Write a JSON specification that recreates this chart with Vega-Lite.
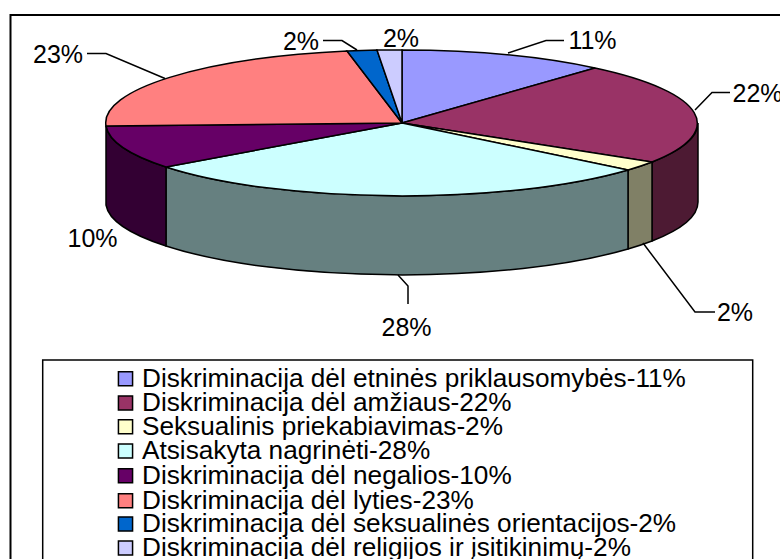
{"$schema":"https://vega.github.io/schema/vega-lite/v6.json","width":780,"height":559,"padding":0,"autosize":"none","background":"white","config":{"view":{"stroke":null}},
"datasets":{"slices":[
{"slice":1,"category":"Diskriminacija dėl etninės priklausomybės-11%","percent":11,"label":"11%"},
{"slice":2,"category":"Diskriminacija dėl amžiaus-22%","percent":22,"label":"22%"},
{"slice":3,"category":"Seksualinis priekabiavimas-2%","percent":2,"label":"2%"},
{"slice":4,"category":"Atsisakyta nagrinėti-28%","percent":28,"label":"28%"},
{"slice":5,"category":"Diskriminacija dėl negalios-10%","percent":10,"label":"10%"},
{"slice":6,"category":"Diskriminacija dėl lyties-23%","percent":23,"label":"23%"},
{"slice":7,"category":"Diskriminacija dėl seksualinės orientacijos-2%","percent":2,"label":"2%"},
{"slice":8,"category":"Diskriminacija dėl religijos ir įsitikinimų-2%","percent":2,"label":"2%"}],
"chrome":[{"slice":1,"part":"frame"},{"slice":2,"part":"legend box"}]},
"resolve":{"scale":{"x":"independent","y":"independent","color":"independent","shape":"independent"}},
"layer":[
{"data":{"name":"chrome"},"mark":{"type":"point","filled":false,"stroke":"#000","size":4,"opacity":1},
"encoding":{"x":{"field":"slice","type":"quantitative","axis":null,"scale":{"domain":[1,8],"range":[402,402]}},"y":{"field":"slice","type":"quantitative","axis":null,"scale":{"domain":[1,8],"range":[123,123]}},
"shape":{"field":"part","type":"nominal","legend":null,"scale":{"domain":["frame","legend box"],"range":["M-391.5 -108 L420 -108 L420 470 L-391.5 470 Z","M-359.3 237 L350.7 237 L350.7 480 L-359.3 480 Z"]}},
"strokeWidth":{"field":"part","type":"ordinal","legend":null,"scale":{"domain":["frame","legend box"],"range":[2,1.5]}}}},
{"data":{"name":"slices"},"transform":[{"filter":"datum.slice>=2 && datum.slice<=5"}],"mark":{"type":"point","filled":true,"stroke":"#000","strokeWidth":1.5,"size":4,"opacity":1},
"encoding":{"x":{"field":"slice","type":"quantitative","axis":null,"scale":{"domain":[1,8],"range":[402,402]}},"y":{"field":"slice","type":"quantitative","axis":null,"scale":{"domain":[1,8],"range":[123,123]}},
"color":{"field":"category","type":"nominal","legend":null,"scale":{"domain":["Diskriminacija dėl amžiaus-22%","Seksualinis priekabiavimas-2%","Atsisakyta nagrinėti-28%","Diskriminacija dėl negalios-10%"],"range":["#4d1a33","#808066","#668080","#330033"]}},
"shape":{"field":"slice","type":"ordinal","legend":null,"scale":{"domain":[2,3,4,5],"range":["M296 0 L296 79 A296 73 0 0 1 250 118 L250 39 A296 73 0 0 0 296 0 Z","M250 39 A296 73 0 0 1 226 47 L226 126 A296 73 0 0 0 250 118 Z","M226 47 A296 73 0 0 1 -236 44 L-236 123 A296 73 0 0 0 226 126 Z","M-236 44 A296 73 0 0 1 -296 3 L-296 82 A296 73 0 0 0 -236 123 Z"]}}}},
{"data":{"name":"slices"},"mark":{"type":"point","filled":true,"stroke":"#000","strokeWidth":1.5,"size":4,"opacity":1},
"encoding":{"x":{"field":"slice","type":"quantitative","axis":null,"scale":{"domain":[1,8],"range":[402,402]}},"y":{"field":"slice","type":"quantitative","axis":null,"scale":{"domain":[1,8],"range":[123,123]}},
"color":{"field":"category","type":"nominal","legend":null,"scale":{"domain":["Diskriminacija dėl etninės priklausomybės-11%","Diskriminacija dėl amžiaus-22%","Seksualinis priekabiavimas-2%","Atsisakyta nagrinėti-28%","Diskriminacija dėl negalios-10%","Diskriminacija dėl lyties-23%","Diskriminacija dėl seksualinės orientacijos-2%","Diskriminacija dėl religijos ir įsitikinimų-2%"],"range":["#9999ff","#993366","#ffffcc","#ccffff","#660066","#ff8080","#0066cc","#ccccff"]}},
"shape":{"field":"slice","type":"ordinal","legend":null,"scale":{"domain":[1,2,3,4,5,6,7,8],"range":["M0 0 L0 -73 A296 73 0 0 1 193 -55 Z","M0 0 L193 -55 A296 73 0 0 1 250 39 Z","M0 0 L250 39 A296 73 0 0 1 226 47 Z","M0 0 L226 47 A296 73 0 0 1 -236 44 Z","M0 0 L-236 44 A296 73 0 0 1 -296 3 Z","M0 0 L-296 3 A296 73 0 0 1 -55 -72 Z","M0 0 L-55 -72 A296 73 0 0 1 -25 -73 Z","M0 0 L-25 -73 A296 73 0 0 1 0 -73 Z"]}}}},
{"data":{"name":"slices"},"transform":[{"filter":"datum.slice!=5 && datum.slice!=8"}],"mark":{"type":"point","filled":false,"stroke":"#000","strokeWidth":1.5,"size":4,"opacity":1},
"encoding":{"x":{"field":"slice","type":"quantitative","axis":null,"scale":{"domain":[1,8],"range":[402,402]}},"y":{"field":"slice","type":"quantitative","axis":null,"scale":{"domain":[1,8],"range":[123,123]}},
"shape":{"field":"slice","type":"ordinal","legend":null,"scale":{"domain":[1,2,3,4,6,7],"range":["M106 -70 L144 -82.5 L162 -82.5","M293 -13 L310 -30.5 L328 -30.5","M241 120 L293 189 L313 189","M-4 152 L6 163 L6 181","M-237 -44.5 L-296 -69.5 L-315 -69.5","M-45 -73 L-60 -82.5 L-79 -82.5"]}}}},
{"data":{"name":"slices"},"mark":{"type":"text","font":"Liberation Sans","fontSize":25,"color":"#000","align":"center","baseline":"middle"},
"encoding":{"x":{"field":"slice","type":"quantitative","axis":null,"scale":{"domain":[1,2,3,4,5,6,7,8],"range":[592.5,757.5,735,406.5,92.5,58,301,401]}},"y":{"field":"slice","type":"quantitative","axis":null,"scale":{"domain":[1,2,3,4,5,6,7,8],"range":[41,93.5,312.7,328,239,55,41.7,39]}},"text":{"field":"label","type":"nominal"}}},
{"data":{"name":"slices"},"mark":{"type":"point","shape":"square","filled":true,"stroke":"#000","strokeWidth":1.5,"size":200,"opacity":1},
"encoding":{"x":{"field":"slice","type":"quantitative","axis":null,"scale":{"domain":[1,8],"range":[125.5,125.5]}},"y":{"field":"slice","type":"quantitative","axis":null,"scale":{"domain":[1,2,3,4,5,6,7,8],"range":[378.7,403,426.7,451,475.7,500.7,524,548]}},
"color":{"field":"category","type":"nominal","legend":null,"scale":{"domain":["Diskriminacija dėl etninės priklausomybės-11%","Diskriminacija dėl amžiaus-22%","Seksualinis priekabiavimas-2%","Atsisakyta nagrinėti-28%","Diskriminacija dėl negalios-10%","Diskriminacija dėl lyties-23%","Diskriminacija dėl seksualinės orientacijos-2%","Diskriminacija dėl religijos ir įsitikinimų-2%"],"range":["#9999ff","#993366","#ffffcc","#ccffff","#660066","#ff8080","#0066cc","#ccccff"]}}}},
{"data":{"name":"slices"},"mark":{"type":"text","font":"Liberation Sans","fontSize":26.2,"color":"#000","align":"left","baseline":"middle"},
"encoding":{"x":{"field":"slice","type":"quantitative","axis":null,"scale":{"domain":[1,8],"range":[142,142]}},"y":{"field":"slice","type":"quantitative","axis":null,"scale":{"domain":[1,2,3,4,5,6,7,8],"range":[378.7,403,426.7,451,475.7,500.7,524,548]}},"text":{"field":"category","type":"nominal"}}}
]}
